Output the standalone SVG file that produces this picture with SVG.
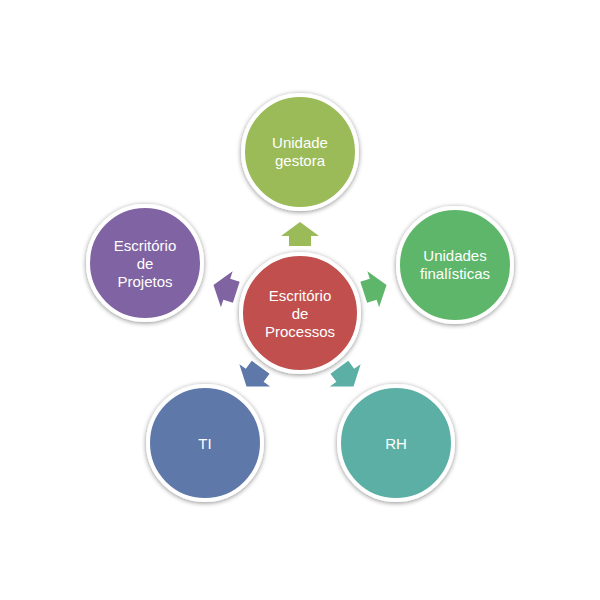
<svg xmlns="http://www.w3.org/2000/svg" width="600" height="600" viewBox="0 0 600 600">
<defs>
<filter id="sh" x="-20%" y="-20%" width="140%" height="140%"><feGaussianBlur in="SourceAlpha" stdDeviation="2.5"/><feOffset dx="0" dy="1"/><feComponentTransfer><feFuncA type="linear" slope="0.45"/></feComponentTransfer><feMerge><feMergeNode/><feMergeNode in="SourceGraphic"/></feMerge></filter>
<polygon id="arr" points="0,-12 19,2 11,2 11,12 -11,12 -11,2 -19,2"/>
</defs>
<style>
circle{stroke:#fff;stroke-width:4;filter:url(#sh)}
text{font-family:"Liberation Sans",Arial,sans-serif;fill:#fff;font-size:15px;text-anchor:middle}
</style>
<rect width="600" height="600" fill="#fff"/>
<g id="connectors">
<use href="#arr" transform="rotate(0,300,313) translate(300,234)" fill="#9BBB59"/>
<use href="#arr" transform="rotate(72,300,313) translate(300,234)" fill="#5DB66A"/>
<use href="#arr" transform="rotate(144,300,313) translate(300,234)" fill="#5BAFA5"/>
<use href="#arr" transform="rotate(216,300,313) translate(300,234)" fill="#5F78AA"/>
<use href="#arr" transform="rotate(288,300,313) translate(300,234)" fill="#8064A2"/>
</g>
<g id="center"><circle cx="300" cy="313" r="59" fill="#C0504D"/><text x="300" y="301">Escritório</text><text x="300" y="319">de</text><text x="300" y="337">Processos</text></g>
<g id="gestora"><circle cx="300" cy="152" r="57" fill="#9BBB59"/><text x="300" y="148">Unidade</text><text x="300" y="166">gestora</text></g>
<g id="finalisticas"><circle cx="455" cy="265" r="57" fill="#5DB66A"/><text x="455" y="261">Unidades</text><text x="455" y="279">finalísticas</text></g>
<g id="rh"><circle cx="396" cy="443" r="57" fill="#5BAFA5"/><text x="396" y="449">RH</text></g>
<g id="ti"><circle cx="205" cy="443" r="57" fill="#5F78AA"/><text x="205" y="449">TI</text></g>
<g id="projetos"><circle cx="145" cy="263" r="57" fill="#8064A2"/><text x="145" y="251">Escritório</text><text x="145" y="269">de</text><text x="145" y="287">Projetos</text></g>
</svg>
